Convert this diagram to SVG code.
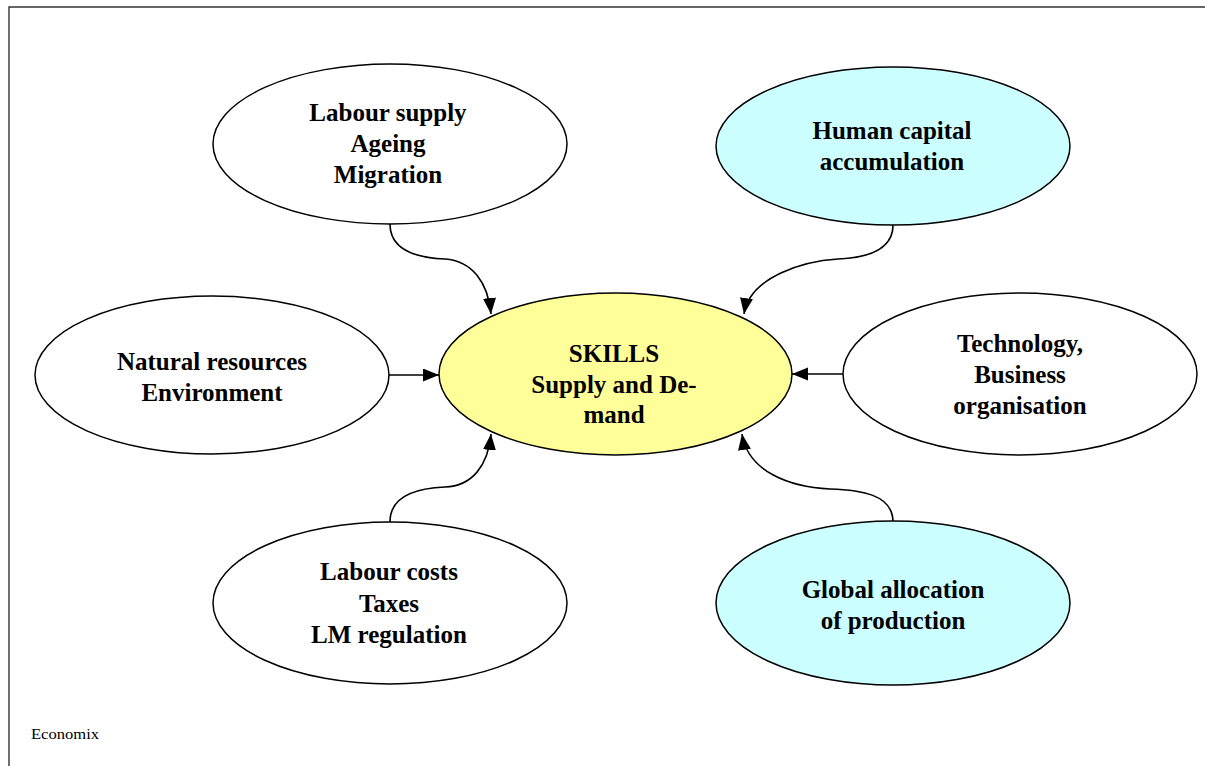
<svg xmlns="http://www.w3.org/2000/svg" width="1205" height="766" viewBox="0 0 1205 766">
<style>
.n{stroke:#000;stroke-width:1.5}
.w{fill:#fff}
.y{fill:#ffff99}
.c{fill:#ccffff}
.t{font-family:"Liberation Serif","Times New Roman",serif;font-weight:bold;font-size:25px;fill:#000;text-anchor:middle}
.e{stroke:#000;stroke-width:1.6;fill:none;marker-end:url(#ah)}
</style>
<defs>
<marker id="ah" markerUnits="userSpaceOnUse" markerWidth="17" markerHeight="14" refX="16" refY="6.5" orient="auto">
<path d="M0,0 L16,6.5 L0,13 Z" fill="#000"/>
</marker>
</defs>
<rect width="1205" height="766" fill="#fff"/>
<path d="M9,800 L9,7 L1210,7" fill="none" stroke="#333" stroke-width="1.4"/>
<g id="connectors">
<path class="e" d="M390,224 C390,252 420,258 445,259 C472,261 488,282 491,314"/>
<path class="e" d="M893,225 C893,252 862,258 838,259 C805,261 750,276 744,314"/>
<path class="e" d="M389,375 L439,375"/>
<path class="e" d="M843,374 L792,374"/>
<path class="e" d="M390,522 C390,494 420,488 445,487 C472,486 488,466 491,434"/>
<path class="e" d="M893,522 C893,494 860,490 830,489 C790,487 748,472 742,434"/>
</g>
<g id="labour-supply">
<ellipse class="n w" cx="390" cy="144" rx="177" ry="80"/>
<text class="t" x="388" y="121">Labour supply</text>
<text class="t" x="388" y="152">Ageing</text>
<text class="t" x="388" y="183">Migration</text>
</g>
<g id="human-capital">
<ellipse class="n c" cx="893" cy="146" rx="177" ry="79"/>
<text class="t" x="892" y="139">Human capital</text>
<text class="t" x="892" y="170">accumulation</text>
</g>
<g id="natural-resources">
<ellipse class="n w" cx="212" cy="375" rx="177" ry="79"/>
<text class="t" x="212" y="370">Natural resources</text>
<text class="t" x="212" y="401">Environment</text>
</g>
<g id="skills">
<ellipse class="n y" cx="615.5" cy="374" rx="176.5" ry="81"/>
<text class="t" x="614" y="362">SKILLS</text>
<text class="t" x="614" y="393">Supply and De-</text>
<text class="t" x="614" y="423">mand</text>
</g>
<g id="technology">
<ellipse class="n w" cx="1020" cy="374" rx="177" ry="81"/>
<text class="t" x="1020" y="352">Technology,</text>
<text class="t" x="1020" y="383">Business</text>
<text class="t" x="1020" y="414">organisation</text>
</g>
<g id="labour-costs">
<ellipse class="n w" cx="390" cy="603" rx="177" ry="81"/>
<text class="t" x="389" y="580">Labour costs</text>
<text class="t" x="389" y="612">Taxes</text>
<text class="t" x="389" y="643">LM regulation</text>
</g>
<g id="global-allocation">
<ellipse class="n c" cx="893" cy="603" rx="177" ry="82"/>
<text class="t" x="893" y="598">Global allocation</text>
<text class="t" x="893" y="629">of production</text>
</g>
<text x="31" y="739" font-family="Liberation Serif, Times New Roman, serif" font-size="15" fill="#000" textLength="68" lengthAdjust="spacingAndGlyphs">Economix</text>
</svg>
